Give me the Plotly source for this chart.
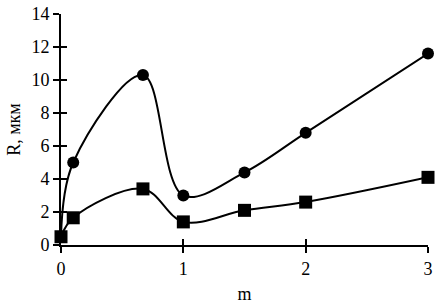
import plotly.graph_objects as go

m_values = [0, 0.1, 0.67, 1, 1.5, 2, 3]
r_circles = [0.5, 5.0, 10.3, 3.0, 4.4, 6.8, 11.6]
r_squares = [0.5, 1.65, 3.4, 1.4, 2.1, 2.6, 4.1]
x_ticks = [0, 1, 2, 3]
y_ticks = [0, 2, 4, 6, 8, 10, 12, 14]

font = dict(family="Liberation Serif", size=18, color="black")

fig = go.Figure()
fig.add_trace(go.Scatter(
    x=m_values, y=r_circles, mode="lines+markers",
    line=dict(color="black", width=2, shape="spline", smoothing=1.0),
    marker=dict(symbol="circle", size=12, color="black"),
    cliponaxis=False, showlegend=False))
fig.add_trace(go.Scatter(
    x=m_values, y=r_squares, mode="lines+markers",
    line=dict(color="black", width=2, shape="spline", smoothing=1.0),
    marker=dict(symbol="square", size=13, color="black"),
    cliponaxis=False, showlegend=False))

fig.update_layout(
    width=446, height=306,
    margin=dict(l=61, r=18, t=14, b=61, autoexpand=False),
    paper_bgcolor="white", plot_bgcolor="white",
    font=font,
    xaxis=dict(range=[0, 3], tickvals=x_ticks, ticks="outside", ticklen=6,
               tickwidth=2, tickcolor="black", showline=True, linecolor="black",
               linewidth=2, showgrid=False, zeroline=False, automargin=False,
               tickfont=font,
               title=dict(text="m", font=font, standoff=10)),
    yaxis=dict(range=[0, 14], tickvals=y_ticks, ticks="outside", ticklen=6,
               tickwidth=2, tickcolor="black", showline=True, linecolor="black",
               linewidth=2, showgrid=False, zeroline=False, automargin=False,
               tickfont=font,
               title=dict(text="R, мкм", font=font, standoff=6)),
    xaxis2=dict(range=[0, 3], tickvals=x_ticks, ticks="inside", ticklen=6,
                tickwidth=2, tickcolor="black", showticklabels=False,
                overlaying="x", side="bottom", showgrid=False, zeroline=False),
    yaxis2=dict(range=[0, 14], tickvals=y_ticks, ticks="inside", ticklen=6,
                tickwidth=2, tickcolor="black", showticklabels=False,
                overlaying="y", side="left", showgrid=False, zeroline=False),
)
fig.add_trace(go.Scatter(x=[None], y=[None], xaxis="x2", yaxis="y2", showlegend=False))

fig.write_html("out.html", config={"displayModeBar": False},
               post_script="document.body.style.margin='0';document.body.style.overflow='hidden';")
